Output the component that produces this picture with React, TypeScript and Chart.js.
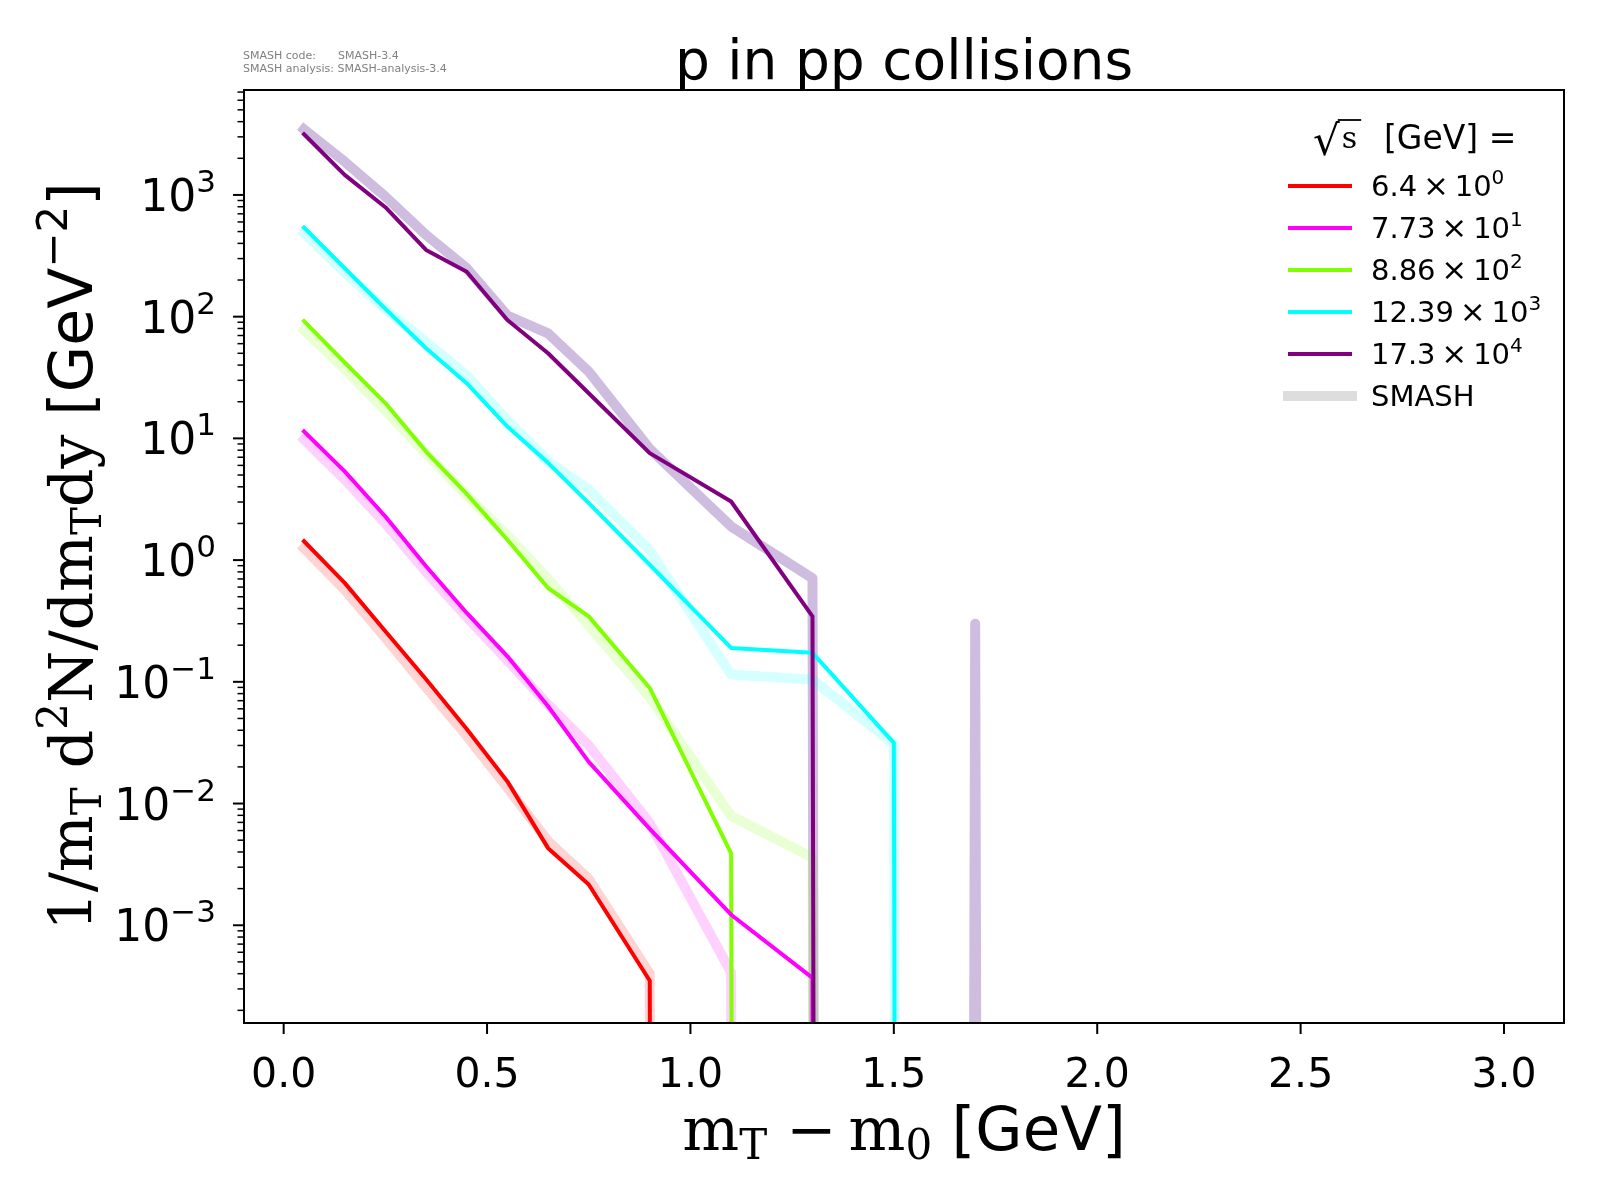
import { useEffect, useRef } from 'react'
import { Chart, registerables } from 'chart.js'

Chart.register(...registerables)

// bin centres of the m_T - m0 histogram [GeV]
const X_BINS = [0.05, 0.15, 0.25, 0.35, 0.45, 0.55, 0.65, 0.75, 0.9, 1.1, 1.3, 1.5, 1.7, 1.9]

const ENERGIES = ['6.4', '7.73', '8.86', '12.39', '17.3']
const OFFSET_EXP = ['0', '1', '2', '3', '4']
const COLORS = ['#ff0000', '#ff00ff', '#7fff00', '#00ffff', '#800080']
const SMASH_COLORS = [
  'rgba(255,0,0,0.17)', 'rgba(255,0,255,0.18)', 'rgba(127,255,0,0.17)',
  'rgba(0,255,255,0.16)', 'rgba(102,51,153,0.32)'
]

// experimental data (already scaled by 10^k)
const DATA_6_4 = [1.43, 0.65, 0.26, 0.105, 0.041, 0.0152, 4.3e-3, 2.16e-3, 3.5e-4, 0, 0, 0, 0, 0]
const DATA_77_3 = [11.4, 5.35, 2.28, 0.89, 0.368, 0.162, 0.063, 0.022, 6.2e-3, 1.22e-3, 3.7e-4, 0, 0, 0]
const DATA_886 = [92, 42, 19.5, 7.8, 3.5, 1.47, 0.59, 0.345, 0.089, 3.9e-3, 0, 0, 0, 0]
const DATA_12390 = [540, 250, 116, 55, 28.4, 12.5, 6.3, 2.94, 0.916, 0.19, 0.173, 0.0315, 0, 0]
const DATA_173000 = [3150, 1460, 793, 353, 234, 94, 50, 23.5, 7.57, 3.03, 0.345, 0, 0, 0]

// SMASH results
const SMASH_6_4 = [1.25, 0.57, 0.23, 0.09, 0.036, 0.0135, 4.9e-3, 2.4e-3, 4.0e-4, 0, 0, 0, 0, 0]
const SMASH_77_3 = [9.8, 4.6, 2.0, 0.8, 0.34, 0.15, 0.065, 0.03, 6.9e-3, 4.1e-4, 0, 0, 0, 0]
const SMASH_886 = [77.6, 37, 17, 7.5, 3.4, 1.6, 0.7, 0.29, 0.075, 7.9e-3, 3.6e-3, 0, 0, 0]
const SMASH_12390 = [484, 230, 115, 62, 33, 14, 6.5, 3.8, 1.2, 0.115, 0.104, 0.031, 0, 0]
const SMASH_173000 = [3460, 1875, 969, 470, 250, 102, 73, 35.4, 8.2, 1.89, 0.71, 0, 0.30, 0]

const DATA = [DATA_6_4, DATA_77_3, DATA_886, DATA_12390, DATA_173000]
const SMASH = [SMASH_6_4, SMASH_77_3, SMASH_886, SMASH_12390, SMASH_173000]
const DATA_ORDER = [4, 2, 3, 1, 0]

const X_TICKS = [0, 0.5, 1.0, 1.5, 2.0, 2.5, 3.0]
const Y_DECADES = [-3, -2, -1, 0, 1, 2, 3]
const X_MIN = -0.0975
const X_MAX = 3.1475
const Y_MIN = 1.574e-4
const Y_MAX = 7280
// matplotlib clips non-positive values on a log axis, the line drops straight down
const CLIP_FLOOR = 1e-300

const SANS = '"DejaVu Sans"'
const SERIF = '"DejaVu Serif"'

type Seg = { t: string; size: number; font?: string; rise?: number }

function drawRich(ctx: CanvasRenderingContext2D, segs: Seg[], x: number, y: number, align: 'left' | 'center' | 'right') {
  const widths = segs.map(s => { ctx.font = `${s.size}px ${s.font || SANS}`; return ctx.measureText(s.t).width })
  const total = widths.reduce((a, b) => a + b, 0)
  let cx = align === 'center' ? x - total / 2 : align === 'right' ? x - total : x
  ctx.textAlign = 'left'
  ctx.textBaseline = 'alphabetic'
  segs.forEach((s, i) => {
    ctx.font = `${s.size}px ${s.font || SANS}`
    ctx.fillText(s.t, cx, y - (s.rise || 0))
    cx += widths[i]
  })
}

const decorations = {
  id: 'decorations',
  afterDraw(chart: Chart) {
    const { ctx, chartArea: a } = chart
    const xs = chart.scales.x
    const ys = chart.scales.y
    ctx.save()
    ctx.fillStyle = '#000'
    ctx.strokeStyle = '#000'

    // frame
    ctx.lineWidth = 2
    ctx.strokeRect(a.left, a.top, a.right - a.left, a.bottom - a.top)

    // x ticks + labels
    X_TICKS.forEach(v => {
      const px = xs.getPixelForValue(v)
      ctx.beginPath(); ctx.moveTo(px, a.bottom); ctx.lineTo(px, a.bottom + 11); ctx.stroke()
      drawRich(ctx, [{ t: v.toFixed(1), size: 41 }], px, a.bottom + 64, 'center')
    })

    // y minor ticks
    ctx.lineWidth = 1.5
    for (let n = -4; n <= 3; n++) {
      for (let k = 2; k <= 9; k++) {
        const v = k * Math.pow(10, n)
        if (v < Y_MIN || v > Y_MAX) continue
        const py = ys.getPixelForValue(v)
        ctx.beginPath(); ctx.moveTo(a.left, py); ctx.lineTo(a.left - 6.5, py); ctx.stroke()
      }
    }
    // y major ticks + labels
    ctx.lineWidth = 2
    Y_DECADES.forEach(d => {
      const py = ys.getPixelForValue(Math.pow(10, d))
      ctx.beginPath(); ctx.moveTo(a.left, py); ctx.lineTo(a.left - 11, py); ctx.stroke()
      const exp = d < 0 ? '\u2212' + Math.abs(d) : String(d)
      drawRich(ctx, [{ t: '10', size: 44 }, { t: exp, size: 31, rise: 19 }], a.left - 28, py + 16, 'right')
    })

    // axis labels
    drawRich(ctx, [
      { t: 'm', size: 60, font: SERIF },
      { t: 'T', size: 42, font: SERIF, rise: -9 },
      { t: ' \u2212', size: 60, font: SERIF },
      { t: '\u2009m', size: 60, font: SERIF },
      { t: '0', size: 42, font: SERIF, rise: -9 },
      { t: ' [GeV]', size: 61 }
    ], (a.left + a.right) / 2, 1150, 'center')

    ctx.save()
    ctx.translate(92, (a.top + a.bottom) / 2)
    ctx.rotate(-Math.PI / 2)
    drawRich(ctx, [
      { t: '1/m', size: 60, font: SERIF },
      { t: 'T', size: 42, font: SERIF, rise: -9 },
      { t: ' d', size: 60, font: SERIF },
      { t: '2', size: 42, font: SERIF, rise: 25 },
      { t: 'N/dm', size: 60, font: SERIF },
      { t: 'T', size: 42, font: SERIF, rise: -9 },
      { t: 'dy', size: 60, font: SERIF },
      { t: ' [GeV', size: 60 },
      { t: '\u22122', size: 42, rise: 25 },
      { t: ']', size: 60 }
    ], 0, 0, 'center')
    ctx.restore()

    // title and version info
    drawRich(ctx, [{ t: 'p in pp collisions', size: 55 }], (a.left + a.right) / 2, 79, 'center')
    ctx.fillStyle = '#808080'
    drawRich(ctx, [{ t: 'SMASH code:', size: 11 }], 243, 59, 'left')
    drawRich(ctx, [{ t: 'SMASH-3.4', size: 11 }], 338, 59, 'left')
    drawRich(ctx, [{ t: 'SMASH analysis: SMASH-analysis-3.4', size: 11 }], 243, 72, 'left')

    // legend
    ctx.fillStyle = '#000'
    ctx.strokeStyle = '#000'
    ctx.font = `42px ${SANS}`
    ctx.textAlign = 'left'
    ctx.fillText('\u221A', 1313, 155)
    const rw = ctx.measureText('\u221A').width
    ctx.font = `30px ${SERIF}`
    ctx.fillText('s', 1313 + rw + 2, 148)
    const sw = ctx.measureText('s').width
    ctx.lineWidth = 1.8
    ctx.beginPath(); ctx.moveTo(1313 + rw - 2, 120); ctx.lineTo(1313 + rw + sw + 6, 120); ctx.stroke()
    drawRich(ctx, [{ t: '[GeV] =', size: 33 }], 1384, 149, 'left')

    const rowY = [186, 228, 270, 312, 354, 396]
    ENERGIES.forEach((e, i) => {
      const y = rowY[i]
      ctx.strokeStyle = COLORS[i]
      ctx.lineWidth = 4
      ctx.lineCap = 'butt'
      ctx.beginPath(); ctx.moveTo(1288, y); ctx.lineTo(1352, y); ctx.stroke()
      ctx.fillStyle = '#000'
      drawRich(ctx, [
        { t: `${e}\u2009`, size: 29 },
        { t: '\u00D7', size: 31 },
        { t: '\u200910', size: 29 },
        { t: OFFSET_EXP[i], size: 20, rise: 12 }
      ], 1371, y + 10, 'left')
    })
    ctx.strokeStyle = '#dddddd'
    ctx.lineWidth = 10
    ctx.beginPath(); ctx.moveTo(1283, rowY[5]); ctx.lineTo(1357, rowY[5]); ctx.stroke()
    drawRich(ctx, [{ t: 'SMASH', size: 29 }], 1371, rowY[5] + 10, 'left')

    ctx.restore()
  }
}

const toPoints = (vals: number[]) => vals.map((v, i) => ({ x: X_BINS[i], y: v > 0 ? v : CLIP_FLOOR }))

export default function App() {
  const canvasRef = useRef<HTMLCanvasElement>(null)

  useEffect(() => {
    if (!canvasRef.current) return
    const smashSets = SMASH.map((vals, i) => ({
      label: `SMASH ${ENERGIES[i]}`,
      data: toPoints(vals),
      borderColor: SMASH_COLORS[i],
      borderWidth: 10,
      borderCapStyle: 'square' as const,
      borderJoinStyle: 'round' as const,
      order: 10 + i
    }))
    const dataSets = DATA.map((vals, i) => ({
      label: `${ENERGIES[i]} x 10^${OFFSET_EXP[i]}`,
      data: toPoints(vals),
      borderColor: COLORS[i],
      borderWidth: 4,
      borderCapStyle: 'square' as const,
      borderJoinStyle: 'round' as const,
      order: DATA_ORDER[i]
    }))

    const chart = new Chart(canvasRef.current, {
      type: 'line',
      data: { datasets: [...dataSets, ...smashSets] },
      options: {
        responsive: false,
        devicePixelRatio: 1,
        animation: false,
        layout: { padding: { left: 244, top: 90, right: 36, bottom: 177 } },
        elements: { point: { radius: 0 }, line: { tension: 0, fill: false } },
        datasets: { line: { clip: 0 } },
        scales: {
          x: { type: 'linear', min: X_MIN, max: X_MAX, display: false },
          y: { type: 'logarithmic', min: Y_MIN, max: Y_MAX, display: false }
        },
        plugins: { legend: { display: false }, tooltip: { enabled: false }, title: { display: false } }
      },
      plugins: [decorations]
    })

    return () => { chart.destroy() }
  }, [])

  return (
    <div style={{ position: 'absolute', left: 0, top: 0, width: 1600, height: 1200, background: '#fff' }}>
      <canvas ref={canvasRef} width={1600} height={1200} />
    </div>
  )
}
